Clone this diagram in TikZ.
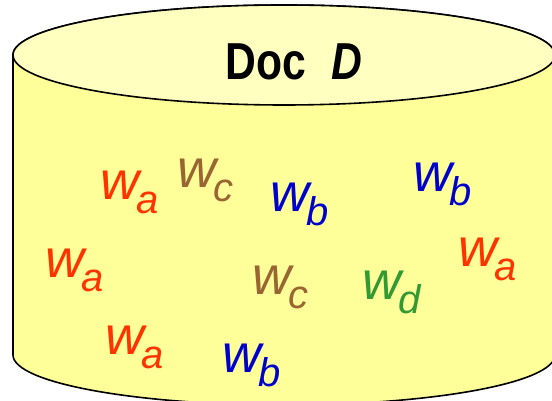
\documentclass[tikz,border=0pt]{standalone}
\usepackage{fontspec}
\setmainfont{Liberation Sans}
\definecolor{body}{RGB}{255,255,153}
\definecolor{lid}{RGB}{255,255,192}
\definecolor{wa}{RGB}{255,51,0}
\definecolor{wb}{RGB}{0,0,204}
\definecolor{wc}{RGB}{153,102,51}
\definecolor{wd}{RGB}{51,153,51}
\newcommand{\wsub}[1]{w\kern-3pt\raisebox{-14pt}{\fontsize{40}{40}\selectfont #1}}
\begin{document}
\begin{tikzpicture}[x=1pt,y=1pt,
  word/.style={anchor=base west, inner sep=0pt, font=\fontsize{54}{54}\selectfont\itshape}]
\useasboundingbox (0,0) rectangle (552,401);
\clip (0,0) rectangle (552,401);
\draw[line width=1.6pt, fill=body](13,346)--(13,46)
  arc[start angle=180, end angle=360, x radius=271, y radius=50]--(555,346)
  arc[start angle=0, end angle=180, x radius=271, y radius=50]--cycle;
\draw[line width=1.6pt, fill=lid](284,346) ellipse[x radius=271, y radius=50];
\node[anchor=base, font=\fontsize{52}{52}\selectfont\bfseries] (title) at (294,321)
  {\scalebox{0.82}[1]{Doc}\hspace{26pt}\scalebox{0.82}[1]{\textit{D}}};

\node[word, text=wa] (wa1) at (100,201) {\wsub{a}};
\node[word, text=wc] (wc1) at (177,213) {\wsub{c}};
\node[word, text=wb] (wb1) at (270,189) {\wsub{b}};
\node[word, text=wb] (wb2) at (413,209) {\wsub{b}};
\node[word, text=wa] (wa2) at (45,123) {\wsub{a}};
\node[word, text=wc] (wc2) at (252,106) {\wsub{c}};
\node[word, text=wd] (wd1) at (362,101) {\wsub{d}};
\node[word, text=wa] (wa3) at (458,134) {\wsub{a}};
\node[word, text=wa] (wa4) at (105,46) {\wsub{a}};
\node[word, text=wb] (wb3) at (222,28) {\wsub{b}};

\end{tikzpicture}
\end{document}
